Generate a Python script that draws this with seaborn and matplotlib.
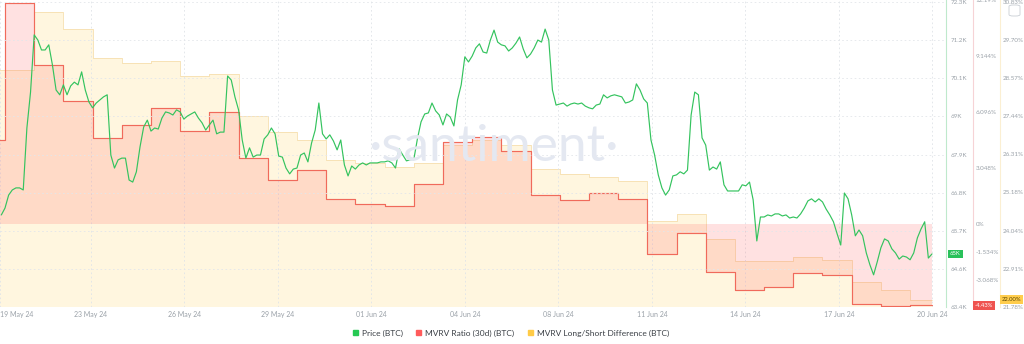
import numpy as np
import pandas as pd
import matplotlib
matplotlib.use("Agg")
import matplotlib.pyplot as plt
import seaborn as sns
from matplotlib.transforms import blended_transform_factory
from matplotlib.patches import Patch, FancyBboxPatch

# ---------------- data ----------------
price_start = "2024-05-19 21:00"   # 3-hourly BTC price (thousand USD)
price_k = [
    66.09, 66.29, 66.67, 66.82, 66.88, 66.88, 66.82, 68.63, 69.68, 71.35,
    71.20, 70.91, 70.91, 71.06, 70.47, 69.74, 69.60, 69.89, 69.60, 69.86,
    69.97, 69.89, 70.27, 69.74, 69.39, 69.22, 69.36, 69.45, 69.54, 69.60,
    67.84, 67.46, 67.70, 67.75, 67.75, 67.11, 67.05, 67.35, 68.08, 68.66,
    68.86, 68.54, 68.63, 68.60, 68.92, 69.10, 69.07, 69.01, 69.16, 69.10,
    68.89, 68.98, 69.04, 69.10, 68.92, 68.78, 68.57, 68.72, 68.86, 68.46,
    68.51, 68.51, 70.15, 70.03, 69.54, 69.16, 68.28, 67.75, 68.05, 67.78,
    67.84, 67.84, 68.31, 68.43, 68.63, 68.46, 67.81, 67.78, 67.46, 67.29,
    67.43, 67.46, 67.84, 67.90, 67.64, 68.19, 68.57, 69.36, 68.46, 68.31,
    68.43, 68.25, 67.99, 68.28, 67.55, 67.23, 67.52, 67.43, 67.55, 67.61,
    67.55, 67.61, 67.61, 67.61, 67.64, 67.64, 67.67, 67.61, 67.46, 68.02,
    67.84, 67.67, 67.70, 67.70, 68.31, 68.81, 69.04, 69.07, 69.36, 69.13,
    69.01, 68.72, 69.04, 68.95, 68.69, 69.45, 69.89, 70.71, 70.56, 70.73,
    70.97, 71.09, 70.85, 70.82, 71.20, 71.49, 71.14, 71.06, 71.03, 70.88,
    70.97, 71.11, 71.29, 70.94, 70.68, 70.79, 70.97, 71.20, 71.14, 71.52,
    71.20, 69.74, 69.30, 69.33, 69.36, 69.27, 69.33, 69.36, 69.33, 69.36,
    69.27, 69.22, 69.19, 69.30, 69.33, 69.60, 69.51, 69.57, 69.60, 69.57,
    69.54, 69.36, 69.39, 69.45, 69.92, 69.74, 69.48, 69.36, 68.28, 67.84,
    67.26, 66.88, 66.67, 66.82, 67.23, 67.26, 67.35, 67.29, 67.40, 69.01,
    69.68, 69.60, 68.34, 68.13, 67.40, 67.49, 67.43, 67.64, 66.97, 66.79,
    66.79, 66.79, 66.79, 66.97, 66.94, 67.05, 66.53, 65.33, 66.03, 66.03,
    66.09, 66.06, 66.12, 66.12, 66.06, 66.09, 66.00, 66.03, 66.00, 66.12,
    66.29, 66.50, 66.56, 66.47, 66.56, 66.47, 66.26, 66.09, 65.89, 65.54,
    65.21, 66.73, 66.56, 66.09, 65.48, 65.65, 65.48, 64.98, 64.63, 64.34,
    64.72, 65.13, 65.39, 65.33, 65.10, 64.98, 64.80, 64.89, 64.86, 64.78,
    64.98, 65.42, 65.68, 65.89, 64.83, 64.95,
]

daily_start = "2024-05-19"          # daily metrics
mvrv_30d = [
    4.57, 12.03, 8.65, 6.69, 4.68, 5.39, 6.31, 5.06, 6.10, 3.59,
    2.39, 2.94, 1.36, 1.09, 0.98, 2.18, 4.46, 4.73, 3.97, 1.58,
    1.31, 1.69, 1.36, -1.63, -0.49, -2.61, -3.59, -3.43, -2.67, -2.78,
    -4.35, -4.46, -4.43,
]
mvrv_ls = [
    28.81, 28.81, 30.53, 30.03, 29.17, 29.02, 29.08, 28.63, 28.69, 27.45,
    26.97, 26.73, 26.14, 26.05, 25.93, 26.05, 26.59, 26.73, 26.59, 25.87,
    25.72, 25.64, 25.52, 24.33, 24.54, 23.80, 23.15, 23.15, 23.26, 23.17,
    22.52, 22.28, 22.00,
]
data_end = "2024-06-20 18:00"

x_tick_labels = ["19 May 24", "23 May 24", "26 May 24", "29 May 24", "01 Jun 24",
                 "04 Jun 24", "08 Jun 24", "11 Jun 24", "14 Jun 24", "17 Jun 24",
                 "20 Jun 24"]
price_tick_labels = ["63.4K", "64.6K", "65.7K", "66.8K", "67.9K", "69K", "70.1K",
                     "71.2K", "72.3K"]
mvrv_ticks = [12.19, 9.144, 6.096, 3.048, 0.0, -1.534, -3.068]
mvrv_tick_labels = ["12.19%", "9.144%", "6.096%", "3.048%", "0%", "-1.534%", "-3.068%"]
ls_ticks = [21.78, 22.91, 24.04, 25.18, 26.31, 27.44, 28.57, 29.70, 30.83]
ls_tick_labels = ["21.78%", "22.91%", "24.04%", "25.18%", "26.31%", "27.44%",
                  "28.57%", "29.70%", "30.83%"]

# ---------------- frames ----------------
t_price = pd.date_range(price_start, periods=len(price_k), freq="3h")
df_price = pd.DataFrame({"t": t_price, "price": price_k})

t_day = pd.date_range(daily_start, periods=len(mvrv_30d), freq="D")
t_step = t_day.append(pd.DatetimeIndex([pd.Timestamp(data_end)]))
mv_step = np.append(mvrv_30d, mvrv_30d[-1])
ls_step = np.append(mvrv_ls, mvrv_ls[-1])
df_mv = pd.DataFrame({"t": t_step, "v": mv_step})
df_ls = pd.DataFrame({"t": t_step, "v": ls_step})

# ---------------- style ----------------
sns.set_theme(style="white")
plt.rcParams["font.family"] = ["Lato", "DejaVu Sans"]

GREEN = "#34c35e"
RED = "#f06a5b"
RED_FILL = "#ff5b5b"
YEL = "#ffcb47"
TICK = "#9aa1a8"

W, H = 1024, 344
fig = plt.figure(figsize=(W / 100, H / 100), dpi=100)
fig.patch.set_facecolor("white")
ax_ls = fig.add_axes([0, 1 - 307 / H, 946 / W, 307 / H])
ax_mv = ax_ls.twinx()
ax_p = ax_ls.twinx()

origin = pd.Timestamp(daily_start)
x_left = origin + pd.Timedelta(days=0.829)
x_right = origin + pd.Timedelta(days=33.23)

# watermark (behind everything)
fig.text(493 / W, 1 - 147 / H, "\u00b7santiment\u00b7", ha="center", va="center",
         fontsize=37, color="#e4e8f1", zorder=0, family=["Lato", "DejaVu Sans"])

# L/S difference: yellow area
ax_ls.fill_between(df_ls["t"], df_ls["v"], 20.0, step="post", color=YEL, alpha=0.17, lw=0)
sns.lineplot(data=df_ls, x="t", y="v", ax=ax_ls, drawstyle="steps-post",
             color="#f6dfae", lw=0.6, legend=False)
ax_ls.set_ylim(21.78, 30.886)

# MVRV 30d: red area relative to zero
ax_mv.fill_between(df_mv["t"], df_mv["v"], 0, step="post", color=RED_FILL, alpha=0.18, lw=0)
sns.lineplot(data=df_mv, x="t", y="v", ax=ax_mv, drawstyle="steps-post",
             color=RED, lw=0.85, legend=False)
ax_mv.set_ylim(-4.52, 12.19)

# Price
sns.lineplot(data=df_price, x="t", y="price", ax=ax_p, color=GREEN, lw=0.85, legend=False)
ax_p.set_ylim(63.40, 72.37)

for a in (ax_ls, ax_mv, ax_p):
    a.set_xlim(x_left, x_right)
    a.set_xlabel("")
    a.set_ylabel("")
    a.patch.set_visible(False)
    for s in ("top", "left", "bottom", "right"):
        a.spines[s].set_visible(False)

# x ticks
tick_days = [0.829] + [0.743 + 3.202 * i for i in range(1, len(x_tick_labels))]
tick_pos = [origin + pd.Timedelta(days=d) for d in tick_days]
ax_ls.set_xticks(tick_pos)
ax_ls.set_xticklabels(x_tick_labels)
ax_ls.tick_params(axis="x", length=0, pad=3, labelsize=5, labelcolor=TICK)
ax_ls.get_xticklabels()[0].set_ha("left")
ax_ls.grid(axis="x", color="#dfe3e8", lw=0.6, ls=(0, (2, 3)))
ax_ls.set_axisbelow(False)

# price axis (right)
ax_p.set_yticks(np.linspace(63.40, 72.31, 9))
ax_p.set_yticklabels(price_tick_labels)
ax_p.yaxis.tick_right()
ax_p.spines["right"].set_visible(True)
ax_p.spines["right"].set_color("#bfe9cc")
ax_p.spines["right"].set_linewidth(0.8)
ax_p.tick_params(axis="y", length=0, pad=3, labelsize=4.5, labelcolor=TICK)
ax_p.grid(axis="y", color="#e3e6ea", lw=0.6, ls=(0, (2, 3)))

# mvrv axis
ax_mv.set_yticks(mvrv_ticks)
ax_mv.set_yticklabels(mvrv_tick_labels)
ax_mv.spines["right"].set_visible(True)
ax_mv.spines["right"].set_position(("outward", 27 * 0.72))
ax_mv.spines["right"].set_color("#f6d3d6")
ax_mv.spines["right"].set_linewidth(0.8)
ax_mv.tick_params(axis="y", length=0, pad=2, labelsize=4.5, labelcolor=TICK)

# L/S axis
ax_ls.yaxis.tick_right()
ax_ls.set_yticks(ls_ticks)
ax_ls.set_yticklabels(ls_tick_labels)
ax_ls.spines["right"].set_visible(True)
ax_ls.spines["right"].set_position(("outward", 54 * 0.72))
ax_ls.spines["right"].set_color("#fbefd2")
ax_ls.spines["right"].set_linewidth(0.8)
ax_ls.tick_params(axis="y", length=0, pad=2, labelsize=4.5, labelcolor=TICK)

for a in (ax_p, ax_mv, ax_ls):
    for lb in a.get_yticklabels():
        lb.set_ha("left")

# last-value badges
tr_p = blended_transform_factory(ax_p.transAxes, ax_p.transData)
ax_p.text(1 + 4 / 946, price_k[-1], "%dK" % round(price_k[-1]), transform=tr_p,
          ha="left", va="center", fontsize=4.2, color="white", clip_on=False,
          bbox=dict(boxstyle="square,pad=0.3", fc="#29c15a", ec="none"))
tr_m = blended_transform_factory(ax_mv.transAxes, ax_mv.transData)
ax_mv.text(1 + 29 / 946, mvrv_30d[-1], "%.2f%%" % mvrv_30d[-1], transform=tr_m,
           ha="left", va="center", fontsize=4.2, color="white", clip_on=False,
           bbox=dict(boxstyle="square,pad=0.3", fc="#ef5350", ec="none"))
tr_l = blended_transform_factory(ax_ls.transAxes, ax_ls.transData)
ax_ls.text(1 + 56 / 946, mvrv_ls[-1], "%.2f%%" % mvrv_ls[-1], transform=tr_l,
           ha="left", va="center", fontsize=4.2, color="#5a4500", clip_on=False,
           bbox=dict(boxstyle="square,pad=0.3", fc="#ffcd4d", ec="none"))

# legend
handles = [Patch(color="#26c953", label="Price (BTC)"),
           Patch(color="#ff5b5b", label="MVRV Ratio (30d) (BTC)"),
           Patch(color="#ffcb47", label="MVRV Long/Short Difference (BTC)")]
fig.legend(handles=handles, loc="center", bbox_to_anchor=(511 / W, 1 - 333 / H),
           ncol=3, frameon=False, fontsize=6, handlelength=0.6, handleheight=0.6,
           handletextpad=0.5, columnspacing=1.6, labelcolor="#3a3f45")

# small icon top right
icon = FancyBboxPatch((1009 / W, 1 - 16 / H), 11 / W, 11 / H,
                      boxstyle="round,pad=0,rounding_size=0.004",
                      transform=fig.transFigure, fc="white", ec="#c9ced4", lw=0.6)
fig.patches.append(icon)

fig.savefig("out.png", dpi=100)
